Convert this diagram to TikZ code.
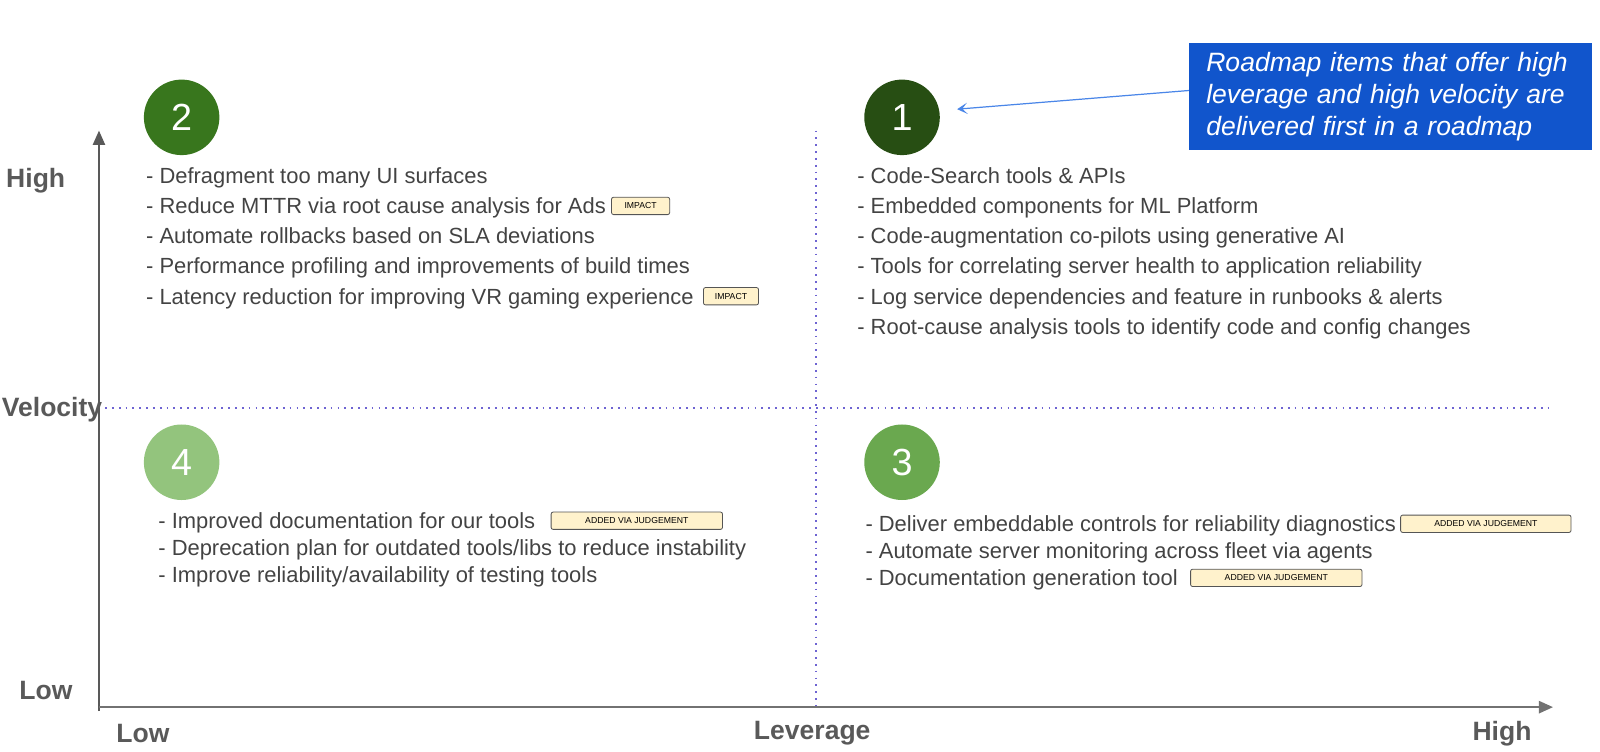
\documentclass[tikz,border=0pt]{standalone}
\usepackage{fontspec}
\setmainfont{Liberation Sans}
\usepackage{xcolor}
\usepackage{tikz}
\usetikzlibrary{arrows.meta}
\usetikzlibrary{positioning}
\definecolor{txtgray}{HTML}{434343}
\definecolor{axgray}{HTML}{595959}
\definecolor{dotblue}{HTML}{6E64D2}
\definecolor{tagfill}{HTML}{FFF2CC}
\definecolor{tagline}{HTML}{555555}
\definecolor{greenA}{HTML}{274E13}
\definecolor{greenB}{HTML}{38761D}
\definecolor{greenC}{HTML}{6AA84F}
\definecolor{greenD}{HTML}{93C47D}
\definecolor{noteblue}{HTML}{1155CC}
\definecolor{arrowblue}{HTML}{4A86E8}

\begin{document}
\begin{tikzpicture}[x=1pt,y=-1pt]
\tikzstyle{every node}=[font=\fontsize{21.5}{26}\selectfont, text=txtgray]
\tikzstyle{item}=[anchor=base west, inner sep=0pt]
\tikzstyle{tag}=[draw=tagline, fill=tagfill, rounded corners=2pt, line width=0.8pt, font=\fontsize{8.5}{9}\selectfont, text=black, inner sep=0pt, minimum height=17pt, yshift=7.7pt]
\tikzstyle{num}=[circle, minimum size=74pt, inner sep=0pt, text=white, font=\fontsize{37}{40}\selectfont]
\tikzstyle{axlabel}=[font=\bfseries\fontsize{26}{30}\selectfont, text=axgray]
\tikzstyle{grid}=[draw=dotblue, line width=1.7pt, dash pattern=on 1.7pt off 5pt]
\useasboundingbox (0,0) rectangle (1568,736);
% axes and quadrant lines
\coordinate (yfoot) at (97,697);
\coordinate (ytop) at (97,128);
\coordinate (origin) at (97,693);
\coordinate (xend) at (1522,693);
\coordinate (vtop) at (800,128);
\coordinate (vbot) at (800,693);
\coordinate (hleft) at (103,400);
\coordinate (hright) at (1520,400);
\draw [grid] (vtop) -- (vbot);
\draw [grid] (hleft) -- (hright);
\draw [axgray, line width=1.5pt, -{Triangle[length=14pt,width=12pt]}] (yfoot) -- (ytop);
\draw [axgray!85, line width=2.2pt, -{Triangle[length=14pt,width=12pt]}] (origin) -- (xend);
\node [axlabel] (vhigh) at (35,177) {High};
\node [axlabel] (vmid) at (51,401) {Velocity};
\node [axlabel] (vlow) at (45,677) {Low};
\node [axlabel] (hlow) at (140,719) {Low};
\node [axlabel] (hmid) at (796,719) {Leverage};
\node [axlabel] (hhigh) at (1472,719) {High};
% quadrant markers
\node [num, fill=greenB] (q2) at (178,115) {2};
\node [num, fill=greenA] (q1) at (884,115) {1};
\node [num, fill=greenD] (q4) at (178,453) {4};
\node [num, fill=greenC] (q3) at (884,453) {3};
% quadrant 2
\node [item] (q2a) at (143,180) {- Defragment too many UI surfaces};
\node [item] (q2b) at (143,209.5) {- Reduce MTTR via root cause analysis for Ads};
\node [item] (q2c) at (143,239) {- Automate rollbacks based on SLA deviations};
\node [item] (q2d) at (143,268.5) {- Performance profiling and improvements of build times};
\node [item] (q2e) at (143,298) {- Latency reduction for improving VR gaming experience};
\node [tag, minimum width=57pt, right=5pt of q2b.base east] (q2bt) {IMPACT};
\node [tag, minimum width=54pt, right=9pt of q2e.base east] (q2et) {IMPACT};
% quadrant 1
\node [item] (q1a) at (840,180) {- Code-Search tools \& APIs};
\node [item] (q1b) at (840,209.5) {- Embedded components for ML Platform};
\node [item] (q1c) at (840,239) {- Code-augmentation co-pilots using generative AI};
\node [item] (q1d) at (840,268.5) {- Tools for correlating server health to application reliability};
\node [item] (q1e) at (840,298) {- Log service dependencies and feature in runbooks \& alerts};
\node [item] (q1f) at (840,327.5) {- Root-cause analysis tools to identify code and config changes};
% quadrant 4
\node [item] (q4a) at (155,518) {- Improved documentation for our tools};
\node [item] (q4b) at (155,544.5) {- Deprecation plan for outdated tools/libs to reduce instability};
\node [item] (q4c) at (155,571) {- Improve reliability/availability of testing tools};
\node [tag, minimum width=168pt, right=15pt of q4a.base east] (q4at) {ADDED VIA JUDGEMENT};
% quadrant 3
\node [item] (q3a) at (848,521) {- Deliver embeddable controls for reliability diagnostics};
\node [item] (q3b) at (848,547) {- Automate server monitoring across fleet via agents};
\node [item] (q3c) at (848,574) {- Documentation generation tool};
\node [tag, minimum width=167pt, right=4pt of q3a.base east] (q3at) {ADDED VIA JUDGEMENT};
\node [tag, minimum width=168pt, right=12pt of q3c.base east] (q3ct) {ADDED VIA JUDGEMENT};
% callout
\node [anchor=north west, fill=noteblue, text=white, inner xsep=17pt, inner ysep=0pt, minimum width=395pt, minimum height=105pt, text width=361pt, align=left, font=\itshape\fontsize{26}{31.5}\selectfont] (note) at (1165,42) {Roadmap items that offer high leverage and high velocity are delivered first in a roadmap};
\coordinate (pointer) at (938,107);
\draw [arrowblue, line width=1.2pt, -{Stealth[length=10pt,width=11pt,inset=5pt]}] ([yshift=6pt]note.west) -- (pointer);
\end{tikzpicture}
\end{document}
